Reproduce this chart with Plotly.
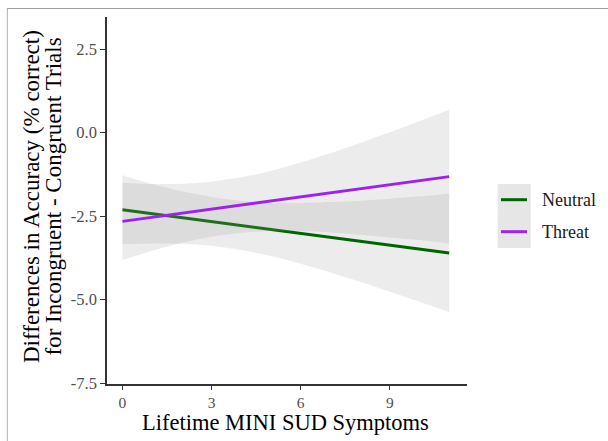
import plotly.graph_objects as go

# ---- data ----
x_vals = [0, 1, 2, 3, 4, 5, 6, 7, 8, 9, 10, 11]

neutral_fit = [-2.31, -2.43, -2.55, -2.66, -2.78, -2.90, -3.02, -3.14, -3.25, -3.37, -3.49, -3.61]
neutral_upper = [-1.28, -1.54, -1.76, -1.93, -2.05, -2.10, -2.11, -2.08, -2.04, -1.98, -1.91, -1.83]
neutral_lower = [-3.34, -3.32, -3.33, -3.39, -3.52, -3.70, -3.93, -4.19, -4.47, -4.77, -5.07, -5.38]

threat_fit = [-2.66, -2.54, -2.42, -2.29, -2.17, -2.05, -1.93, -1.81, -1.68, -1.56, -1.44, -1.32]
threat_upper = [-1.50, -1.54, -1.53, -1.47, -1.34, -1.15, -0.90, -0.62, -0.31, 0.01, 0.34, 0.68]
threat_lower = [-3.82, -3.54, -3.30, -3.12, -3.00, -2.95, -2.95, -2.99, -3.06, -3.14, -3.22, -3.32]

series_names = ["Neutral", "Threat"]
series_colors = ["#006400", "#A020F0"]

x_ticks = [0, 3, 6, 9]
y_ticks = [2.5, 0.0, -2.5, -5.0, -7.5]
y_tick_text = ["2.5", "0.0", "-2.5", "-5.0", "-7.5"]

# ---- layout geometry (pixels) ----
W, H = 608, 441
L, R, T, B = 107, 141, 17, 57
PW, PH = W - L - R, H - T - B


def px(xp):
    return (xp - L) / PW


def py(yp):
    return (H - B - yp) / PH


ribbon_fill = "rgba(153,153,153,0.19)"
serif = "Liberation Serif, Times New Roman, serif"

fig = go.Figure()

groups = [
    (neutral_fit, neutral_upper, neutral_lower),
    (threat_fit, threat_upper, threat_lower),
]
for (fit, up, lo), name, col in zip(groups, series_names, series_colors):
    fig.add_trace(go.Scatter(
        x=x_vals, y=lo, mode="lines", line=dict(width=0, shape="spline", smoothing=0.6),
        hoverinfo="skip", showlegend=False))
    fig.add_trace(go.Scatter(
        x=x_vals, y=up, mode="lines", fill="tonexty", fillcolor=ribbon_fill,
        line=dict(width=0, shape="spline", smoothing=0.6),
        hoverinfo="skip", showlegend=False))
    fig.add_trace(go.Scatter(
        x=x_vals, y=fit, mode="lines", name=name,
        line=dict(color=col, width=3), showlegend=False))

shapes = [
    # document frame
    dict(type="line", xref="paper", yref="paper", x0=px(7), x1=px(W), y0=py(8.5), y1=py(8.5),
         line=dict(color="#a0a0a0", width=1.2)),
    dict(type="line", xref="paper", yref="paper", x0=px(7.3), x1=px(7.3), y0=py(8.5), y1=py(H),
         line=dict(color="#b0b0b0", width=1)),
    # legend key background
    dict(type="rect", xref="paper", yref="paper", x0=px(497.7), x1=px(530.7), y0=py(184), y1=py(248),
         fillcolor="#e6e6e6", line=dict(width=0), layer="below"),
]
annotations = []
for i, (name, col) in enumerate(zip(series_names, series_colors)):
    yy = 199.7 + 32 * i
    shapes.append(dict(type="line", xref="paper", yref="paper", x0=px(501), x1=px(527),
                       y0=py(yy), y1=py(yy), line=dict(color=col, width=3)))
    annotations.append(dict(text=name, xref="paper", yref="paper", x=px(540), y=py(yy),
                            xanchor="left", yanchor="middle", showarrow=False,
                            font=dict(family=serif, size=18, color="#1a1a1a")))

# y-axis title (two lines)
annotations.append(dict(text="Differences in Accuracy (% correct)", xref="paper", yref="paper",
                        x=px(31), y=py(197), xanchor="center", yanchor="middle", textangle=-90,
                        showarrow=False, font=dict(family=serif, size=23, color="#000000")))
annotations.append(dict(text="for Incongruent - Congruent Trials", xref="paper", yref="paper",
                        x=px(52.5), y=py(197), xanchor="center", yanchor="middle", textangle=-90,
                        showarrow=False, font=dict(family=serif, size=23, color="#000000")))
# x-axis title
annotations.append(dict(text="Lifetime MINI SUD Symptoms", xref="paper", yref="paper",
                        x=px(285.5), y=py(423), xanchor="center", yanchor="middle",
                        showarrow=False, font=dict(family=serif, size=22.5, color="#000000")))

fig.update_layout(
    width=W, height=H,
    margin=dict(l=L, r=R, t=T, b=B, pad=0),
    paper_bgcolor="white", plot_bgcolor="white",
    showlegend=False,
    shapes=shapes, annotations=annotations,
)
fig.update_xaxes(
    range=[-0.52, 11.6], tickvals=x_ticks, ticktext=[str(v) for v in x_ticks],
    showgrid=False, zeroline=False, showline=True, linecolor="#333333", linewidth=1.6,
    ticks="outside", ticklen=4, tickcolor="#333333", tickwidth=1.2,
    tickfont=dict(family=serif, size=15.5, color="#4d4d4d"),
)
fig.update_yaxes(
    range=[-7.53, 3.46], tickvals=y_ticks, ticktext=y_tick_text,
    showgrid=False, zeroline=False, showline=True, linecolor="#333333", linewidth=1.6,
    ticks="outside", ticklen=5, tickcolor="#333333", tickwidth=1.2,
    tickfont=dict(family=serif, size=16.5, color="#4d4d4d"),
)

fig.write_html("out.html")
